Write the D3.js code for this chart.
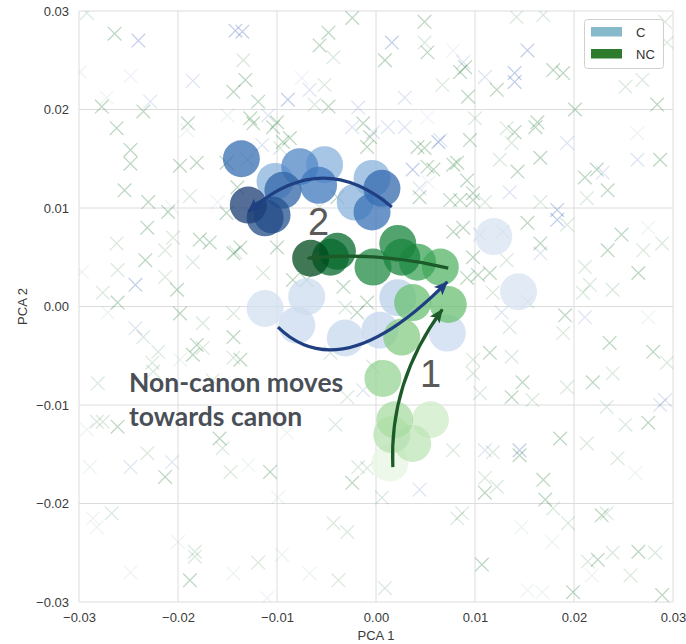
<!DOCTYPE html>
<html>
<head>
<meta charset="utf-8">
<script src="https://cdn.jsdelivr.net/npm/d3@7"></script>
<style>
  html, body { margin: 0; padding: 0; background: #ffffff; }
  svg { display: block; }
</style>
</head>
<body>
<div id="chart"></div>
<script>
// ---- axis setup ----
const axisDomain = [-0.03, 0.03];
const tickValues = [-0.03, -0.02, -0.01, 0.00, 0.01, 0.02, 0.03];
const xLabel = "PCA 1";
const yLabel = "PCA 2";

// ---- legend ----
const legendLabels = ["C", "NC"];

// ---- individual samples (x markers), weight 1 = strong, 3 = faint ----
const ncX = [-0.0292,-0.0264,-0.0144,-0.0277,-0.0272,-0.0235,-0.0262,-0.0190,-0.0191,-0.0248,-0.0248,-0.0198,-0.0181,-0.0254,-0.0230,-0.0210,-0.0188,-0.0150,-0.0299,
  -0.0024,-0.0048,-0.0057,-0.0043,0.0009,0.0049,0.0052,0.0049,0.0085,0.0067,0.0093,-0.0132,-0.0134,-0.0119,-0.0052,-0.0048,-0.0062,-0.0127,-0.0100,-0.0094,-0.0087,-0.0097,-0.0013,-0.0006,-0.0009,0.0049,0.0052,0.0044,0.0078,0.0092,0.0095,0.0098,-0.0130,-0.0080,
  0.0142,0.0169,0.0179,0.0189,0.0122,0.0090,0.0252,0.0269,0.0284,0.0292,0.0294,0.0201,0.0132,0.0140,0.0161,0.0163,0.0137,0.0125,0.0143,0.0166,0.0100,0.0211,0.0223,0.0234,0.0264,0.0287,0.0166,0.0110,0.0213,
  0.0153,0.0166,0.0193,0.0128,0.0132,0.0092,0.0234,0.0248,0.0265,0.0270,0.0289,0.0211,0.0216,0.0239,0.0209,0.0275,0.0191,0.0189,0.0275,0.0135,0.0153,0.0098,0.0137,0.0236,0.0280,0.0294,0.0239,0.0219,0.0148,0.0137,0.0193,0.0105,0.0158,
  0.0233,0.0252,0.0275,0.0213,0.0244,0.0262,0.0186,0.0118,0.0145,0.0110,0.0110,0.0122,0.0169,0.0171,0.0179,0.0194,0.0147,0.0178,0.0087,0.0228,0.0233,0.0224,0.0214,0.0239,0.0265,0.0282,0.0257,0.0107,0.0153,0.0168,0.0199,0.0289,0.0218,
  -0.0041,-0.0090,-0.0107,-0.0129,-0.0024,-0.0018,-0.0009,0.0078,0.0082,-0.0099,0.0006,-0.0043,-0.0029,-0.0119,-0.0095,-0.0067,-0.0038,0.0009,-0.0029,
  -0.0282,-0.0276,-0.0261,-0.0292,-0.0231,-0.0289,-0.0213,-0.0158,-0.0155,-0.0147,-0.0267,-0.0286,-0.0282,-0.0183,-0.0183,-0.0188,-0.0248,-0.0144,-0.0200,
  -0.0231,-0.0205,-0.0262,-0.0233,-0.0213,-0.0213,-0.0261,-0.0178,-0.0168,-0.0185,-0.0142,-0.0297,-0.0276,-0.0261,-0.0201,-0.0198,-0.0271,-0.0175,-0.0235,-0.0220,-0.0181,-0.0175,-0.0185,-0.0144,-0.0226,-0.0198,-0.0281,-0.0225,-0.0165,
  -0.0124,-0.0104,0.0042,0.0058,0.0082,0.0098,0.0075,0.0085,0.0078,0.0088,0.0103,0.0098,0.0115,0.0118,0.0115,0.0098,-0.0151,-0.0140,-0.0144,-0.0137,-0.0151,-0.0100,-0.0114,-0.0039,-0.0057,-0.0084,-0.0070,-0.0033,-0.0009,-0.0031,-0.0019,-0.0144,-0.0144,-0.0046,-0.0003,-0.0137];
const ncY = [0.0298,0.0277,0.0218,0.0203,0.0212,0.0198,0.0181,0.0186,0.0179,0.0159,0.0145,0.0143,0.0146,0.0118,0.0106,0.0096,0.0112,0.0194,0.0238,
  0.0293,0.0278,0.0265,0.0253,0.0250,0.0289,0.0258,0.0268,0.0238,0.0225,0.0213,0.0230,0.0250,0.0208,0.0225,0.0203,0.0205,0.0191,0.0187,0.0167,0.0171,0.0161,0.0186,0.0172,0.0162,0.0161,0.0142,0.0111,0.0144,0.0128,0.0169,0.0108,0.0149,0.0125,
  0.0294,0.0296,0.0240,0.0237,0.0220,0.0243,0.0223,0.0230,0.0205,0.0289,0.0268,0.0200,0.0181,0.0177,0.0182,0.0187,0.0166,0.0149,0.0137,0.0151,0.0191,0.0131,0.0139,0.0118,0.0176,0.0149,0.0106,0.0106,0.0110,
  0.0085,0.0064,0.0083,0.0076,0.0047,0.0029,0.0057,0.0073,0.0034,0.0057,0.0064,0.0040,0.0022,0.0017,0.0014,0.0080,-0.0009,-0.0027,-0.0011,-0.0021,0.0005,-0.0054,-0.0051,-0.0037,-0.0046,-0.0057,-0.0068,-0.0077,-0.0077,-0.0092,-0.0082,-0.0088,-0.0095,
  -0.0102,-0.0120,-0.0118,-0.0139,-0.0154,-0.0169,-0.0134,-0.0148,-0.0151,-0.0174,-0.0189,-0.0183,-0.0176,-0.0196,-0.0205,-0.0220,-0.0224,-0.0239,-0.0210,-0.0212,-0.0210,-0.0257,-0.0259,-0.0250,-0.0249,-0.0250,-0.0273,-0.0262,-0.0288,-0.0290,-0.0290,-0.0293,-0.0273,
  -0.0120,-0.0128,-0.0168,-0.0161,-0.0179,-0.0163,-0.0164,-0.0146,-0.0215,-0.0194,-0.0194,-0.0220,-0.0229,-0.0260,-0.0252,-0.0271,-0.0278,-0.0286,-0.0092,
  -0.0117,-0.0117,-0.0122,-0.0125,-0.0149,-0.0163,-0.0173,-0.0134,-0.0144,-0.0168,-0.0210,-0.0215,-0.0224,-0.0249,-0.0254,-0.0278,-0.0270,-0.0271,-0.0239,
  0.0080,0.0070,0.0064,0.0047,0.0057,0.0030,0.0037,0.0068,0.0065,0.0045,0.0055,0.0035,0.0014,0.0004,0.0017,-0.0007,-0.0006,-0.0017,-0.0031,-0.0046,-0.0039,-0.0042,-0.0049,-0.0052,-0.0057,-0.0054,-0.0078,-0.0066,-0.0075,
  0.0186,0.0182,0.0162,0.0139,0.0146,0.0115,0.0108,0.0108,0.0076,0.0080,0.0032,0.0050,0.0034,0.0014,-0.0047,-0.0068,0.0146,0.0121,0.0054,0.0060,0.0095,0.0060,0.0034,0.0111,0.0101,0.0027,0.0027,0.0020,0.0004,-0.0001,-0.0006,-0.0007,-0.0031,-0.0047,-0.0061,-0.0054];
const ncW = [2,1,1,1,3,1,1,1,3,1,1,1,1,1,1,1,2,3,3,
  1,1,1,2,1,1,1,2,1,2,1,1,2,1,2,1,2,1,1,1,1,2,1,1,1,1,1,1,1,1,1,1,2,2,
  2,2,1,1,1,1,2,2,1,2,2,1,2,1,1,1,2,2,1,1,2,1,1,1,3,1,2,2,2,
  1,1,2,2,2,1,1,1,1,2,2,2,2,2,2,3,1,2,3,2,2,2,2,1,1,2,2,1,1,1,2,2,2,
  2,2,1,2,2,3,1,2,1,2,1,2,1,1,2,2,3,3,2,1,2,1,2,2,1,2,2,1,3,3,1,1,3,
  2,3,1,3,1,2,2,2,2,3,2,2,2,2,3,3,2,2,2,
  2,2,1,3,2,3,1,1,2,2,2,3,3,2,2,1,3,3,3,
  1,2,2,1,2,2,2,1,1,2,2,3,2,1,1,1,3,2,2,2,1,2,1,2,2,3,2,2,2,
  1,1,1,1,1,1,1,1,1,1,1,1,1,2,1,2,1,1,1,1,1,1,2,1,2,1,1,1,1,2,1,2,1,2,2,1];

const cX = [-0.0240,-0.0248,-0.0185,-0.0142,-0.0228,-0.0206,-0.0160,0.0016,0.0078,0.0088,-0.0135,-0.0089,-0.0075,-0.0067,-0.0109,-0.0115,-0.0018,-0.0024,-0.0003,0.0012,0.0029,0.0029,0.0052,0.0065,0.0053,
  0.0153,0.0140,0.0140,0.0110,0.0193,0.0229,0.0264,0.0135,0.0183,0.0166,0.0183,0.0211,0.0127,0.0292,0.0287,0.0110,0.0145,0.0044,-0.0110,-0.0013,-0.0248,-0.0206,-0.0243,-0.0243,0.0037,0.0063,0.0044,0.0105];
const cY = [0.0270,0.0234,0.0229,0.0280,0.0208,0.0101,0.0106,0.0268,0.0260,0.0248,0.0279,0.0210,0.0232,0.0220,0.0194,0.0164,0.0202,0.0182,0.0177,0.0182,0.0182,0.0212,0.0192,0.0169,0.0126,
  0.0260,0.0237,0.0228,0.0233,0.0166,0.0136,0.0149,0.0116,0.0098,0.0054,0.0088,-0.0011,-0.0006,-0.0095,-0.0100,-0.0146,-0.0146,-0.0186,-0.0296,-0.0085,-0.0163,-0.0158,0.0022,-0.0022,0.0139,0.0167,0.0120,0.0073];
const cW = [1,3,2,1,2,3,3,1,3,2,1,1,3,2,2,2,2,2,2,2,2,2,3,2,3,
  1,1,1,2,2,2,2,2,1,2,1,2,2,2,2,2,1,2,3,2,2,2,1,2,1,1,2,2];

// ---- group centroids over successive steps (step 0 = earliest, 1 = latest) ----
const cPathX = [0.0144,0.0119,0.0072,0.0022,0.0004,-0.0031,-0.0080,-0.0112,-0.0070,
  -0.0004,-0.0021,-0.0052,0.0006,-0.0004,-0.0102,-0.0077,-0.0058,-0.0136,-0.0094,-0.0105,-0.0112,-0.0129];
const cPathY = [0.0015,0.0071,-0.0027,0.0009,-0.0024,-0.0032,-0.0019,-0.0002,0.0010,
  0.0130,0.0106,0.0144,0.0120,0.0096,0.0127,0.0142,0.0123,0.0150,0.0118,0.0093,0.0090,0.0103];
const cPathStep = [0.10,0.10,0.22,0.32,0.30,0.26,0.22,0.15,0.20,
  0.45,0.45,0.45,0.72,0.68,0.45,0.60,0.65,0.70,0.75,0.85,0.88,0.95];

const ncPathX = [0.0014,0.0055,0.0037,0.0016,0.0019,0.0007,0.0026,0.0037,0.0073,0.0065,0.0042,-0.0003,0.0026,0.0022,-0.0039,-0.0046,-0.0066];
const ncPathY = [-0.0159,-0.0115,-0.0139,-0.0130,-0.0115,-0.0073,-0.0031,0.0004,0.0002,0.0040,0.0045,0.0040,0.0050,0.0064,0.0056,0.0050,0.0049];
const ncPathStep = [0.10,0.22,0.28,0.30,0.35,0.40,0.45,0.52,0.52,0.58,0.65,0.75,0.78,0.78,0.88,0.88,0.98];

// ---- annotation arrows: [start, control, end] in data units ----
const arrowC1 = [[-0.0099,-0.0021],[-0.0035,-0.0084],[0.0072,0.0025]];
const arrowNC1 = [[0.0017,-0.0163],[0.0013,-0.0077],[0.0067,-0.0003]];
const arrowNC2 = [[0.0073,0.0039],[0.0002,0.0056],[-0.0069,0.0049]];
const arrowC2 = [[0.0016,0.0101],[-0.0056,0.0162],[-0.0129,0.0096]];

const stepLabels = [{t: "1", x: 0.0055, y: -0.0082}, {t: "2", x: -0.0058, y: 0.0073}];
const noteLines = ["Non-canon moves", "towards canon"];

// ---- layout ----
const W = 686, H = 644;
const plot = {left: 79, right: 673, top: 11, bottom: 602};

const svg = d3.select("#chart").append("svg")
  .attr("width", W).attr("height", H)
  .attr("font-family", "'Liberation Sans', Arial, sans-serif");

const x = d3.scaleLinear().domain(axisDomain).range([plot.left, plot.right]);
const y = d3.scaleLinear().domain(axisDomain).range([plot.bottom, plot.top]);

const defs = svg.append("defs");
defs.append("clipPath").attr("id", "plotClip")
  .append("rect").attr("x", plot.left).attr("y", plot.top)
  .attr("width", plot.right - plot.left).attr("height", plot.bottom - plot.top);

// grid
const grid = svg.append("g");
grid.selectAll("line.gx").data(tickValues).join("line")
  .attr("x1", d => x(d)).attr("x2", d => x(d))
  .attr("y1", plot.top).attr("y2", plot.bottom)
  .attr("stroke", "#dcdcdc").attr("stroke-width", 1);
grid.selectAll("line.gy").data(tickValues).join("line")
  .attr("y1", d => y(d)).attr("y2", d => y(d))
  .attr("x1", plot.left).attr("x2", plot.right)
  .attr("stroke", "#dcdcdc").attr("stroke-width", 1);

// axes (labels only, seaborn whitegrid style)
const fmt = d3.format(".2f");
const xAxis = svg.append("g").attr("transform", `translate(0,${plot.bottom})`)
  .call(d3.axisBottom(x).tickValues(tickValues).tickFormat(fmt).tickSize(0).tickPadding(11));
const yAxis = svg.append("g").attr("transform", `translate(${plot.left},0)`)
  .call(d3.axisLeft(y).tickValues(tickValues).tickFormat(fmt).tickSize(0).tickPadding(10));
[xAxis, yAxis].forEach(a => {
  a.select(".domain").remove();
  a.selectAll("text").attr("font-size", 13).attr("fill", "#3a3a3a")
    .attr("font-family", "'Liberation Sans', Arial, sans-serif");
});

svg.append("text").attr("x", (plot.left + plot.right) / 2).attr("y", 640)
  .attr("text-anchor", "middle").attr("font-size", 13).attr("fill", "#3a3a3a").text(xLabel);
svg.append("text").attr("transform", `translate(27,${(plot.top + plot.bottom) / 2}) rotate(-90)`)
  .attr("text-anchor", "middle").attr("font-size", 13).attr("fill", "#3a3a3a").text(yLabel);

// markers
const body = svg.append("g").attr("clip-path", "url(#plotClip)");
const wOpacity = d3.scaleOrdinal().domain([1, 2, 3]).range([0.34, 0.19, 0.09]);
const arm = 6.8;
function drawCrosses(xs, ys, ws, color) {
  const pts = xs.map((v, i) => ({x: v, y: ys[i], w: ws[i]}));
  body.append("g").selectAll("path").data(pts).join("path")
    .attr("d", d => {
      const cx = x(d.x), cy = y(d.y);
      return `M${cx - arm},${cy - arm}L${cx + arm},${cy + arm}M${cx - arm},${cy + arm}L${cx + arm},${cy - arm}`;
    })
    .attr("stroke", color).attr("stroke-width", 1.25).attr("fill", "none")
    .attr("stroke-opacity", d => wOpacity(d.w));
}
drawCrosses(cX, cY, cW, "#4a6fbf");
drawCrosses(ncX, ncY, ncW, "#3a8a4a");

// centroid circles, coloured by step
const blueSteps = d3.scaleLinear()
  .domain([0, 0.3, 0.45, 0.65, 0.8, 1])
  .range(["#e2eaf6", "#c3d5ec", "#8ab2dc", "#3f78bd", "#285a9c", "#163466"])
  .interpolate(d3.interpolateRgb);
const R = 18.5;
function drawPath(xs, ys, steps, colorOf) {
  const pts = xs.map((v, i) => ({x: v, y: ys[i], s: steps[i]}));
  body.append("g").selectAll("circle").data(pts).join("circle")
    .attr("cx", d => x(d.x)).attr("cy", d => y(d.y)).attr("r", R)
    .attr("fill", d => colorOf(d.s)).attr("fill-opacity", 0.75);
}
drawPath(cPathX, cPathY, cPathStep, blueSteps);
drawPath(ncPathX, ncPathY, ncPathStep, d3.interpolateGreens);

// arrows
function addMarker(id, color) {
  defs.append("marker").attr("id", id)
    .attr("viewBox", "-14 -7 16 14").attr("refX", 0).attr("refY", 0)
    .attr("markerWidth", 16).attr("markerHeight", 14)
    .attr("markerUnits", "userSpaceOnUse").attr("orient", "auto")
    .append("path").attr("d", "M1,0 L-13,-6 L-10,0 L-13,6 Z").attr("fill", color);
}
const blueArrow = "#1f3f82", greenArrow = "#1c5a2a";
addMarker("headBlue", blueArrow);
addMarker("headGreen", greenArrow);
function drawArrow(pts, color, marker) {
  const [p0, c, p1] = pts;
  const path = d3.path();
  path.moveTo(x(p0[0]), y(p0[1]));
  path.quadraticCurveTo(x(c[0]), y(c[1]), x(p1[0]), y(p1[1]));
  svg.append("path").attr("d", path.toString())
    .attr("fill", "none").attr("stroke", color).attr("stroke-width", 3.2)
    .attr("marker-end", `url(#${marker})`);
}
drawArrow(arrowC1, blueArrow, "headBlue");
drawArrow(arrowNC1, greenArrow, "headGreen");
drawArrow(arrowNC2, greenArrow, "headGreen");
drawArrow(arrowC2, blueArrow, "headBlue");

// step numbers
svg.append("g").selectAll("text").data(stepLabels).join("text")
  .attr("x", d => x(d.x)).attr("y", d => y(d.y))
  .attr("text-anchor", "middle").attr("font-size", 38).attr("fill", "#5a5a5a")
  .text(d => d.t);

// note
svg.append("g").selectAll("text").data(noteLines).join("text")
  .attr("x", 129).attr("y", (d, i) => 392 + i * 33.5)
  .attr("font-family", "Lato, 'Open Sans', sans-serif").attr("font-weight", 700)
  .attr("font-size", 26.5).attr("fill", "#4a4f57")
  .text(d => d);

// legend
const lg = svg.append("g");
lg.append("rect").attr("x", 584.5).attr("y", 19.5).attr("width", 79).attr("height", 49)
  .attr("rx", 3).attr("fill", "#ffffff").attr("fill-opacity", 0.85)
  .attr("stroke", "#cfcfcf").attr("stroke-width", 1);
const legendColors = ["#86b9c9", "#2e7b2e"];
legendLabels.forEach((lab, i) => {
  lg.append("rect").attr("x", 591).attr("y", 27 + i * 22).attr("width", 31).attr("height", 9.5)
    .attr("fill", legendColors[i]);
  lg.append("text").attr("x", 636).attr("y", 36.5 + i * 22)
    .attr("font-size", 13).attr("fill", "#333").text(lab);
});
</script>
</body>
</html>
